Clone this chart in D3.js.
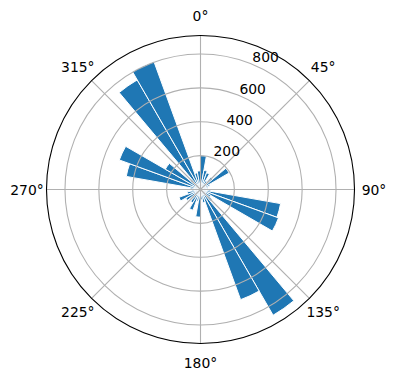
<!DOCTYPE html>
<html>
<head>
<meta charset="utf-8">
<script src="https://cdn.jsdelivr.net/npm/d3@7"></script>
<style>
  body { margin: 0; background: #fff; }
  text { font-family: "DejaVu Sans", sans-serif; }
</style>
</head>
<body>
<div class="canvas"></div>
<script>
// bin centres in degrees, clockwise from north
const directions = [5, 15, 25, 35, 45, 55, 65, 75, 85, 95, 105, 115,
    125, 135, 145, 155, 165, 175, 185, 195, 205, 215, 225, 235,
    245, 255, 265, 275, 285, 295, 305, 315, 325, 335, 345, 355];
const counts = [200, 115, 105, 60, 95, 195, 60, 45, 40, 60, 480, 490,
    70, 90, 857, 692, 80, 60, 163, 70, 130, 90, 70, 100,
    135, 80, 50, 60, 445, 510, 240, 80, 747, 804, 100, 110];
const radialTicks = [200, 400, 600, 800];
const angleTicks = [0, 45, 90, 135, 180, 225, 270, 315];
const binWidth = 10;

const width = 396, height = 380;
const cx = 200.5, cy = 189.5, outer = 154;

const svg = d3.select('.canvas')
    .append('svg')
    .attr('width', width)
    .attr('height', height);

const graph = svg.append('g')
    .attr('transform', `translate(${cx}, ${cy})`);

const r = d3.scaleLinear()
    .domain([0, 909])
    .range([0, outer]);

const rad = d => d * Math.PI / 180;

// bars
const arc = d3.arc()
    .innerRadius(0)
    .outerRadius(d => r(d.value))
    .startAngle(d => rad(d.dir - binWidth / 2))
    .endAngle(d => rad(d.dir + binWidth / 2));

const bars = directions.map((d, i) => ({ dir: d, value: counts[i] }));

graph.selectAll('path.bar')
    .data(bars)
    .enter()
    .append('path')
    .attr('class', 'bar')
    .attr('d', arc)
    .attr('fill', '#1f77b4')
    .attr('stroke', '#ffffff')
    .attr('stroke-width', 1);

// grid on top of bars, like matplotlib
graph.selectAll('circle.grid')
    .data(radialTicks)
    .enter()
    .append('circle')
    .attr('r', d => r(d))
    .attr('fill', 'none')
    .attr('stroke', '#b0b0b0')
    .attr('stroke-width', 1.1);

graph.selectAll('line.spoke')
    .data(angleTicks)
    .enter()
    .append('line')
    .attr('x1', 0)
    .attr('y1', 0)
    .attr('x2', d => outer * Math.sin(rad(d)))
    .attr('y2', d => -outer * Math.cos(rad(d)))
    .attr('stroke', '#b0b0b0')
    .attr('stroke-width', 1.1);

// outer frame
graph.append('circle')
    .attr('r', outer)
    .attr('fill', 'none')
    .attr('stroke', '#000')
    .attr('stroke-width', 1.1);

// angle labels
graph.selectAll('text.angle')
    .data(angleTicks)
    .enter()
    .append('text')
    .attr('x', d => 173.5 * Math.sin(rad(d)))
    .attr('y', d => -173.5 * Math.cos(rad(d)))
    .attr('text-anchor', 'middle')
    .attr('dominant-baseline', 'central')
    .attr('font-size', '13.9px')
    .attr('fill', '#000')
    .text(d => d + '°');

// radial labels at 22.5 degrees
graph.selectAll('text.rlabel')
    .data(radialTicks)
    .enter()
    .append('text')
    .attr('x', d => r(d) * Math.sin(rad(22.5)))
    .attr('y', d => -r(d) * Math.cos(rad(22.5)) - 2)
    .attr('text-anchor', 'start')
    .attr('font-size', '13.9px')
    .attr('fill', '#000')
    .text(d => d);
</script>
</body>
</html>
